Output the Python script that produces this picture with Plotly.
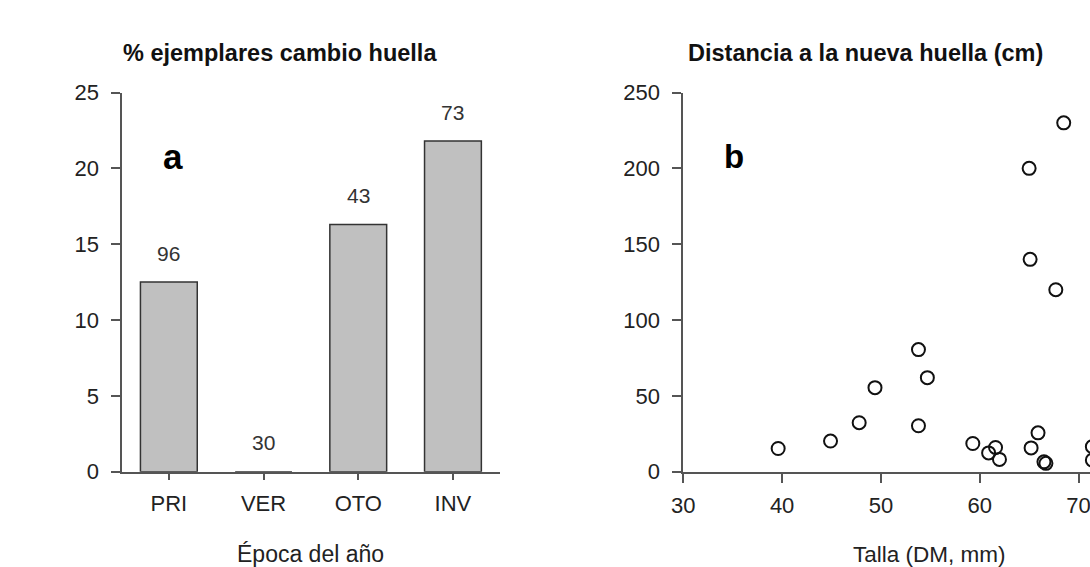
import plotly.graph_objects as go

# ---- data ----
seasons = ["PRI", "VER", "OTO", "INV"]
pct_change = [12.5, 0.0, 16.3, 21.8]
n_counts = ["96", "30", "43", "73"]

talla = [39.6, 44.9, 47.8, 49.4, 53.8, 54.7, 53.8, 59.3, 60.9, 61.6, 62.0,
         65.2, 65.9, 66.5, 66.7, 65.0, 65.1, 67.7, 68.5, 71.4, 71.4]
distancia = [15.3, 20.2, 32.3, 55.4, 80.5, 62.0, 30.3, 18.6, 12.4, 16.0, 8.1,
             15.7, 25.6, 6.5, 5.5, 200.0, 140.0, 120.0, 230.0, 16.5, 7.6]

yticks_a = [0, 5, 10, 15, 20, 25]
yticks_b = [0, 50, 100, 150, 200, 250]
xticks_b = [30, 40, 50, 60, 70]

W, H = 1090, 567
FONT = "Liberation Sans, Arial, sans-serif"
AX = "#555555"
TXT = "#222222"

def px(x):
    return x / W

def py(y):
    return 1 - y / H

fig = go.Figure()

fig.add_trace(go.Bar(
    x=seasons, y=pct_change, xaxis="x", yaxis="y",
    width=0.6,
    marker=dict(color="#c0c0c0", line=dict(color="#333333", width=1.5)),
    hoverinfo="x+y",
))

fig.add_trace(go.Scatter(
    x=talla, y=distancia, xaxis="x2", yaxis="y2", mode="markers",
    marker=dict(symbol="circle-open", size=13, color="#111111",
                line=dict(width=2, color="#111111")),
    cliponaxis=True,
))

ydom = [py(471.7), py(92.5)]
common = dict(showgrid=False, zeroline=False, showline=True, linecolor=AX,
              linewidth=2, ticks="outside", tickcolor=AX, tickwidth=2,
              automargin=False, ticklabeloverflow="allow",
              tickfont=dict(family=FONT, size=22, color=TXT))

fig.update_layout(
    template="none",
    width=W, height=H,
    margin=dict(l=0, r=0, t=0, b=0, pad=0, autoexpand=False),
    paper_bgcolor="white", plot_bgcolor="white",
    showlegend=False,
    font=dict(family=FONT, color=TXT),
    xaxis=dict(domain=[px(121.5), px(500.3)], anchor="y", type="category",
               range=[-0.5, 3.5], ticklen=6, ticklabelstandoff=5, **common),
    yaxis=dict(domain=ydom, anchor="x", range=[0, 25], tickvals=yticks_a,
               ticklen=9, ticklabelstandoff=7, **common),
    xaxis2=dict(domain=[px(683.3), 1.0], anchor="y2", range=[30, 71.16],
                tickvals=xticks_b, ticklen=9, ticklabelstandoff=4, **common),
    yaxis2=dict(domain=ydom, anchor="x2", range=[0, 250], tickvals=yticks_b,
                ticklen=9, ticklabelstandoff=8, **common),
)

annos = []
# counts above bars
for s, v, n in zip(seasons, pct_change, n_counts):
    annos.append(dict(x=s, y=v, xref="x", yref="y", text=n, showarrow=False,
                      xanchor="center", yanchor="middle",
                      yshift=29, font=dict(family=FONT, size=21, color="#333333")))

def label(x, y, text, size, color=TXT):
    annos.append(dict(x=px(x), y=py(y), xref="paper", yref="paper", text=text,
                      showarrow=False, xanchor="center", yanchor="middle",
                      font=dict(family=FONT, size=size, color=color)))

# titles
label(280, 53, "<b>% ejemplares cambio huella</b>", 23.5, "#111111")
label(865.5, 53, "<b>Distancia a la nueva huella (cm)</b>", 23.5, "#111111")
# axis titles
label(310, 554, "Época del año", 23)
label(929, 554, "Talla (DM, mm)", 22.5)
# panel letters
label(172.5, 156, "<b>a</b>", 35, "#000000")
label(734, 156, "<b>b</b>", 33, "#000000")
fig.update_layout(annotations=annos)

fig.write_html("out.html")
